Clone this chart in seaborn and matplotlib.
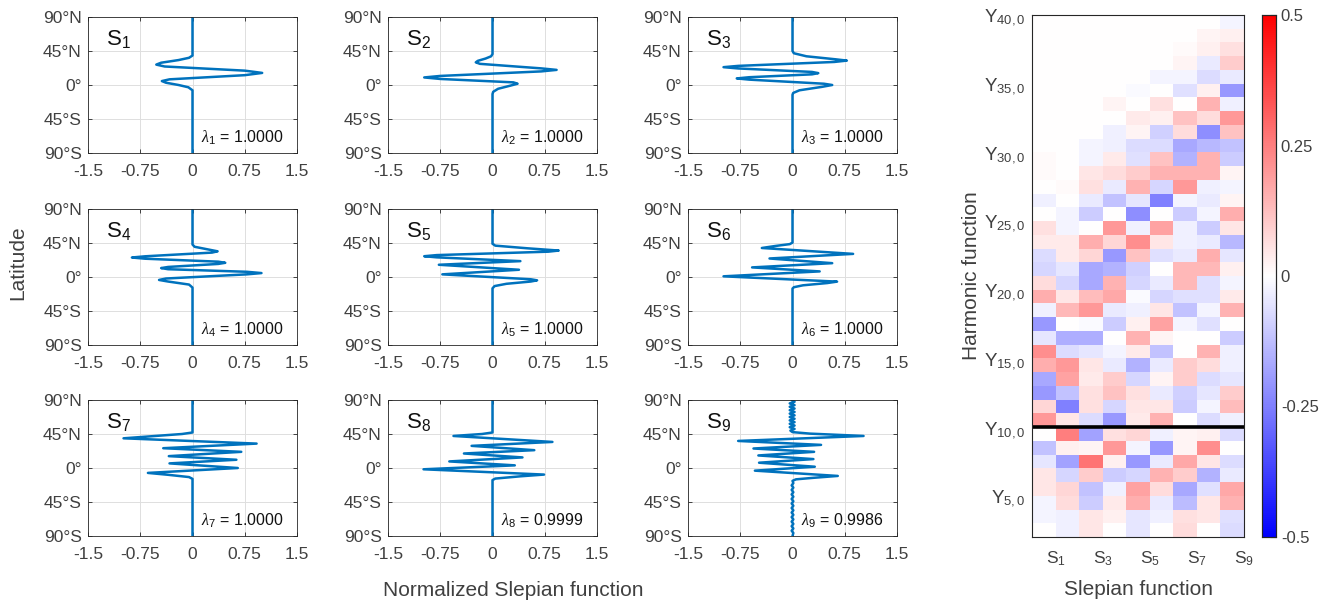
import numpy as np
import pandas as pd
import matplotlib
matplotlib.use("Agg")
import matplotlib.pyplot as plt
from matplotlib.colors import LinearSegmentedColormap
import seaborn as sns

sns.set_style("ticks")
plt.rcParams['font.family'] = ['Liberation Sans', 'DejaVu Sans']
plt.rcParams['mathtext.fontset'] = 'custom'
plt.rcParams['mathtext.rm'] = 'Liberation Sans'
plt.rcParams['mathtext.it'] = 'Liberation Serif:italic'
plt.rcParams['mathtext.bf'] = 'Liberation Sans:bold'
plt.rcParams['axes.unicode_minus'] = False

# ---------------- Slepian function profiles (latitude, value) ----------------
lat_s1 = [90, 39, 36, 33, 29.5, 27, 24.5, 19, 16, 13, 7.5, 5.2, 3, 0, -3, -7, -90]
val_s1 = [0, 0, -0.05, -0.2, -0.45, -0.52, -0.4, 0.75, 1.0, 0.75, -0.33, -0.44, -0.38, -0.2, -0.06, 0, 0]

lat_s2 = [90, 41, 38, 35, 32, 30, 28, 22, 20, 18, 12, 10, 8, 3.5, 1.7, -1, -5, -9, -12, -90]
val_s2 = [0, 0, -0.02, -0.1, -0.21, -0.24, -0.18, 0.7, 0.92, 0.7, -0.75, -0.98, -0.75, 0.3, 0.36, 0.25, 0.08, 0.01, 0, 0]

lat_s3 = [90, 45, 42, 38, 34, 32.3, 30.5, 25.3, 23.6, 21.9, 17.3, 15.7, 14.1, 10.3, 8.7, 7.1,
          1.7, 0, -2.5, -7, -10.5, -13, -90]
val_s3 = [0, 0, 0.02, 0.2, 0.62, 0.78, 0.6, -0.78, -0.99, -0.78, 0.28, 0.37, 0.28, -0.62, -0.8, -0.62,
          0.45, 0.57, 0.42, 0.1, 0.01, 0, 0]

lat_s4 = [90, 43, 40, 36, 34, 32.3, 27.4, 25.8, 24.2, 20.3, 18.8, 17.3, 13.3, 11.8, 10.3, 6.9, 5.2, 3.5,
          -2, -3.9, -6, -10, -14, -90]
val_s4 = [0, 0, 0.03, 0.25, 0.36, 0.28, -0.68, -0.87, -0.68, 0.37, 0.47, 0.37, -0.35, -0.45, -0.35, 0.78,
          0.99, 0.78, -0.38, -0.48, -0.35, -0.05, 0, 0]

lat_s5 = [90, 44, 41.5, 38, 35, 33.5, 29, 27.5, 26, 21, 16.2, 9.6, 3.5, -3, -4.4, -6, -9, -12, -15, -90]
val_s5 = [0, 0, 0.04, 0.5, 0.95, 0.8, -0.8, -0.98, -0.8, 0.40, -0.77, 0.38, -0.72, 0.55, 0.64, 0.55, 0.2, 0.03, 0, 0]

lat_s6 = [90, 45.5, 43.5, 41, 38.4, 30.6, 24.5, 18.3, 12.7, 7.4, 0.9, -6.1, -8, -11, -13.5, -15.3, -90]
val_s6 = [0, 0, -0.04, -0.25, -0.44, 0.87, -0.33, 0.57, -0.58, 0.39, -0.99, 0.64, 0.5, 0.15, 0.02, 0, 0]

lat_s7 = [90, 47, 45, 39.3, 32.3, 26.2, 21.4, 15.7, 10.9, 6.1, 0, -6.5, -9, -12, -14.4, -90]
val_s7 = [0, 0, -0.15, -0.99, 0.92, -0.42, 0.70, -0.34, 0.63, -0.33, 0.65, -0.64, -0.35, -0.05, 0, 0]

lat_s8 = [90, 47, 45, 42.4, 34.5, 29.3, 23.6, 19.2, 14, 8.7, 3.5, -1.7, -8.7, -11, -14, -16, -90]
val_s8 = [0, 0, -0.15, -0.56, 0.86, -0.30, 0.60, -0.41, 0.43, -0.62, 0.32, -0.99, 0.74, 0.4, 0.04, 0, 0]

lat_s9 = [90, 87.7, 85.5, 83.2, 81, 78.7, 76.5, 74.2, 72, 69.7, 67.5, 65.2, 63, 60.7,
          58.5, 56.2, 54, 51.7, 49.5, 47.5, 45.5, 42.4, 35.8, 30.6, 25.8, 21.4, 16.6, 11.8,
          7, 1.7, -3.5, -10.5, -13, -15, -17, -20, -23, -26, -29, -32, -35, -38, -41, -44,
          -47, -50, -53, -56, -59, -62, -65, -68, -71, -74, -77, -80, -83, -86, -90]
val_s9 = [-0.01, 0.03, -0.04, 0.03, -0.04, 0.03, -0.04, 0.03, -0.04, 0.03, -0.04, 0.03,
          -0.04, 0.03, -0.04, 0.03, -0.04, 0.03, -0.03, 0.0, 0.25, 1.02, -0.78, 0.41, -0.56,
          0.31, -0.49, 0.30, -0.48, 0.32, -0.54, 0.65, 0.3, 0.05, 0.0, 0.012, -0.012, 0.012,
          -0.012, 0.012, -0.012, 0.012, -0.012, 0.012, -0.012, 0.012, -0.012, 0.012,
          -0.012, 0.012, -0.012, 0.012, -0.012, 0.012, -0.012, 0.012, -0.012, 0.012, 0.0]

lambdas = ["1.0000", "1.0000", "1.0000", "1.0000", "1.0000", "1.0000", "1.0000", "0.9999", "0.9986"]

profiles = [(lat_s1, val_s1), (lat_s2, val_s2), (lat_s3, val_s3),
            (lat_s4, val_s4), (lat_s5, val_s5), (lat_s6, val_s6),
            (lat_s7, val_s7), (lat_s8, val_s8), (lat_s9, val_s9)]

lat_ticks = [90, 45, 0, -45, -90]
lat_labels = ["90°N", "45°N", "0°", "45°S", "90°S"]
x_ticks = [-1.5, -0.75, 0, 0.75, 1.5]
x_labels = ["-1.5", "-0.75", "0", "0.75", "1.5"]

# ---------------- Harmonic coefficients (rows: degree 39 (top) ... 2 (bottom)) ----------------
degrees = list(range(39, 1, -1))
c_s1 = [0, 0, 0, 0, 0, 0, 0, 0, 0, 0, 0.01, 0.01, 0, -0.03, 0, 0.06, 0.04, -0.07, -0.08, 0.07,
        0.16, -0.03, -0.2, -0.05, 0.22, 0.16, -0.17, -0.2, 0.08, 0.2, 0, -0.12, -0.05, 0.05, 0.05, -0.02, -0.02, 0]
c_s2 = [0, 0, 0, 0, 0, 0, 0, 0, 0, 0, 0, 0, 0.01, 0, -0.02, -0.02, 0.04, 0.04, -0.05, -0.08,
        0.05, 0.14, 0, -0.16, -0.07, 0.2, 0.18, -0.12, -0.25, 0.05, 0.25, 0.03, -0.18, -0.08, 0.08, 0.07, -0.03, -0.03]
c_s3 = [0, 0, 0, 0, 0, 0, 0, 0, 0, -0.02, -0.02, 0.05, 0.06, -0.04, -0.1, 0, 0.16, 0.08, -0.17, -0.17,
        0.13, 0.2, -0.01, -0.16, -0.05, 0.05, 0.04, 0.06, 0.06, -0.07, -0.18, 0.02, 0.27, 0.1, -0.12, -0.1, 0.05, 0.05]
c_s4 = [0, 0, 0, 0, 0, 0, 0.02, 0, -0.03, -0.03, 0.04, 0.07, -0.04, -0.12, 0, 0.2, 0.08, -0.2, -0.15, 0.15,
        0.17, -0.04, -0.1, 0, -0.02, -0.04, 0.1, 0.12, -0.08, -0.2, 0.06, 0.2, 0.03, -0.1, -0.03, 0.04, 0.03, 0]
c_s5 = [0, 0, 0, 0, 0, -0.01, 0, 0.04, 0.02, -0.07, -0.06, 0.1, 0.15, -0.05, -0.22, -0.03, 0.22, 0.12, -0.09, -0.08,
        -0.01, -0.03, 0.03, 0.15, 0.04, -0.15, -0.08, 0.06, 0.05, 0.04, 0.08, -0.02, -0.2, -0.08, 0.18, 0.16, -0.05, -0.05]
c_s6 = [0, 0, 0, 0, -0.02, 0, 0.06, 0.03, -0.09, -0.07, 0.12, 0.15, -0.08, -0.25, 0, 0.18, 0.05, -0.06, 0, -0.04,
        -0.08, 0.05, 0.18, 0.02, -0.12, -0.04, 0.02, -0.04, 0.05, 0.15, -0.03, -0.2, -0.04, 0.15, 0.07, -0.04, -0.03, 0]
c_s7 = [0, 0, 0.01, 0.02, -0.02, -0.06, 0, 0.12, 0.07, -0.17, -0.15, 0.15, 0.2, -0.02, -0.1, -0.03, -0.03, -0.04, 0.14, 0.14,
        -0.06, -0.12, -0.02, 0, 0, 0.1, 0.1, -0.09, -0.1, 0, 0.02, 0.02, 0.17, 0.1, -0.17, -0.13, 0.06, 0.07]
c_s8 = [0, 0.02, 0.03, -0.04, -0.07, 0.03, 0.15, 0.07, -0.22, -0.14, 0.15, 0.15, -0.03, -0.04, -0.02, -0.1, -0.04, 0.16, 0.14, -0.06,
        -0.06, -0.02, -0.06, 0, 0.15, 0.07, -0.07, -0.05, -0.02, -0.07, 0.03, 0.22, 0.05, -0.15, -0.06, 0.05, 0.05, 0]
c_s9 = [-0.02, 0.03, 0.06, 0.1, -0.04, -0.2, -0.03, 0.2, 0.12, -0.12, -0.1, 0.02, -0.02, 0.02, 0.16, 0.05, -0.14, -0.05, 0.03, -0.02,
        0.04, 0.15, 0, -0.1, -0.03, -0.03, -0.05, 0.1, 0.13, -0.03, -0.07, 0, -0.07, -0.04, 0.17, 0.15, -0.06, -0.07]
slep_names = ["S1", "S2", "S3", "S4", "S5", "S6", "S7", "S8", "S9"]
hm_ytick_degrees = [40, 35, 30, 25, 20, 15, 10, 5]
hm_xtick_index = [1, 3, 5, 7, 9]
cbar_ticks = [-0.5, -0.25, 0, 0.25, 0.5]
cbar_labels = ["-0.5", "-0.25", "0", "0.25", "0.5"]

W, H = 1333, 611
fig = plt.figure(figsize=(W / 100, H / 100), dpi=100)

tick_gray = "#404040"
line_color = "#0072BD"

col_left = [88, 388, 688]
row_top = [17, 209, 400]
aw, ah = 209, 136
for i, (lats, vals) in enumerate(profiles):
    r, c = divmod(i, 3)
    ax = fig.add_axes([col_left[c] / W, 1 - (row_top[r] + ah) / H, aw / W, ah / H])
    df = pd.DataFrame({"lat": lats, "val": vals})
    sns.lineplot(data=df, x="val", y="lat", sort=False, estimator=None, ax=ax,
                 color=line_color, lw=1.8)
    ax.set_xlim(-1.5, 1.5)
    ax.set_ylim(-90, 90)
    ax.set_xticks(x_ticks)
    ax.set_xticklabels(x_labels)
    ax.set_yticks(lat_ticks)
    ax.set_yticklabels(lat_labels)
    ax.set_xlabel("")
    ax.set_ylabel("")
    ax.grid(True, color="#dedede", lw=0.7)
    ax.set_axisbelow(True)
    ax.tick_params(direction="in", length=3, width=0.6, top=True, right=True,
                   labelsize=12.5, labelcolor=tick_gray, color="#262626")
    ax.tick_params(axis="x", pad=8)
    ax.tick_params(axis="y", pad=4.5)
    for sp in ax.spines.values():
        sp.set_visible(True)
        sp.set_color("#262626")
        sp.set_linewidth(0.6)
    ax.text(0.085, 0.84, "S$_{%d}$" % (i + 1), transform=ax.transAxes, fontsize=16,
            va="center", ha="left", color="#111111")
    ax.text(0.54, 0.11, r"$\lambda_{%d}$ = %s" % (i + 1, lambdas[i]), transform=ax.transAxes,
            fontsize=11.5, va="center", ha="left", color="#111111")

fig.text(18 / W, 1 - 263 / H, "Latitude", rotation=90, fontsize=15, color=tick_gray,
         ha="center", va="center")
fig.text(513 / W, 1 - 590 / H, "Normalized Slepian function", fontsize=15, color=tick_gray,
         ha="center", va="center")

# ---------------- Heatmap ----------------
hm = pd.DataFrame(np.array([c_s1, c_s2, c_s3, c_s4, c_s5, c_s6, c_s7, c_s8, c_s9]).T,
                  index=["Y%d,0" % l for l in degrees], columns=slep_names)
cmap = LinearSegmentedColormap.from_list("bwr_pure", ["#0000ff", "#ffffff", "#ff0000"])
hax = fig.add_axes([1032 / W, 1 - 537 / H, 212 / W, 522 / H])
cax = fig.add_axes([1262 / W, 1 - 537 / H, 14 / W, 522 / H])
sns.heatmap(hm, ax=hax, cbar_ax=cax, cmap=cmap, vmin=-0.5, vmax=0.5,
            xticklabels=False, yticklabels=False)
hax.axhline(degrees[0] + 1 - 10, color="black", lw=2.6)
hax.set_yticks([degrees[0] + 1 - l for l in hm_ytick_degrees])
hax.set_yticklabels(["Y$_{%d,0}$" % l for l in hm_ytick_degrees], fontsize=13.5)
hax.set_xticks(hm_xtick_index)
hax.set_xticklabels(["S$_{%d}$" % k for k in hm_xtick_index], fontsize=12.5)
hax.tick_params(direction="in", length=3, width=0.6, top=True, right=True, left=True, bottom=True,
                labelcolor=tick_gray, color="#909090")
hax.tick_params(axis="x", pad=9)
hax.tick_params(axis="y", pad=5)
for sp in hax.spines.values():
    sp.set_visible(True)
    sp.set_color("#262626")
    sp.set_linewidth(0.8)
hax.set_xlabel("Slepian function", fontsize=15, color=tick_gray, labelpad=9)
hax.set_ylabel("Harmonic function", fontsize=15, color=tick_gray, labelpad=2)

cax.set_yticks(cbar_ticks)
cax.set_yticklabels(cbar_labels)
cax.tick_params(direction="in", length=4, width=0.8, labelsize=12, labelcolor=tick_gray,
                color="#262626", right=True, left=False)
for sp in cax.spines.values():
    sp.set_visible(True)
    sp.set_color("#262626")
    sp.set_linewidth(0.8)

fig.savefig("out.png", dpi=100)
